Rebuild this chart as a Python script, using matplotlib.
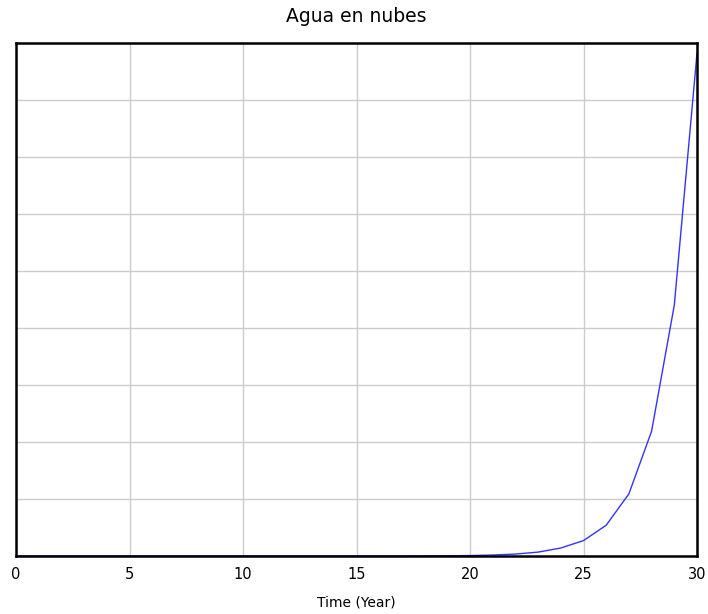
import numpy as np
import matplotlib
matplotlib.use("Agg")
import matplotlib.pyplot as plt

# Agua en nubes over time (in grid units)
years = list(range(0, 31))
agua = [0.0, 0.0, 0.0, 0.0, 0.0, 0.0, 0.0, 0.0, 0.0, 0.0,
        0.0, 0.0, 0.0, 0.0, 0.0, 0.0, 0.0, 0.001, 0.002, 0.004,
        0.008, 0.017, 0.034, 0.068, 0.14, 0.27, 0.54, 1.09, 2.19, 4.40,
        8.82]
x_ticks = [0, 5, 10, 15, 20, 25, 30]

fig = plt.figure(figsize=(7.08, 6.14), dpi=100)
ax = fig.add_axes([16/708, 58/614, 681/708, 513/614])

ax.plot(years, agua, color='#3333ff', linewidth=1.0)

ax.set_xlim(0, 30)
ax.set_ylim(0, 9)
ax.set_xticks(x_ticks)
ax.set_yticks(np.arange(0, 10, 1))
ax.set_yticklabels([])
ax.tick_params(length=0, labelsize=10.5, pad=8)
ax.grid(True, color='#cccccc', linewidth=1.0)
ax.set_axisbelow(True)
for s in ax.spines.values():
    s.set_color('black')
    s.set_linewidth(1.8)

ax.set_title("Agua en nubes", fontsize=13.5, pad=15)
ax.set_xlabel("Time (Year)", fontsize=10, labelpad=10)

fig.savefig("out.png", dpi=100)
